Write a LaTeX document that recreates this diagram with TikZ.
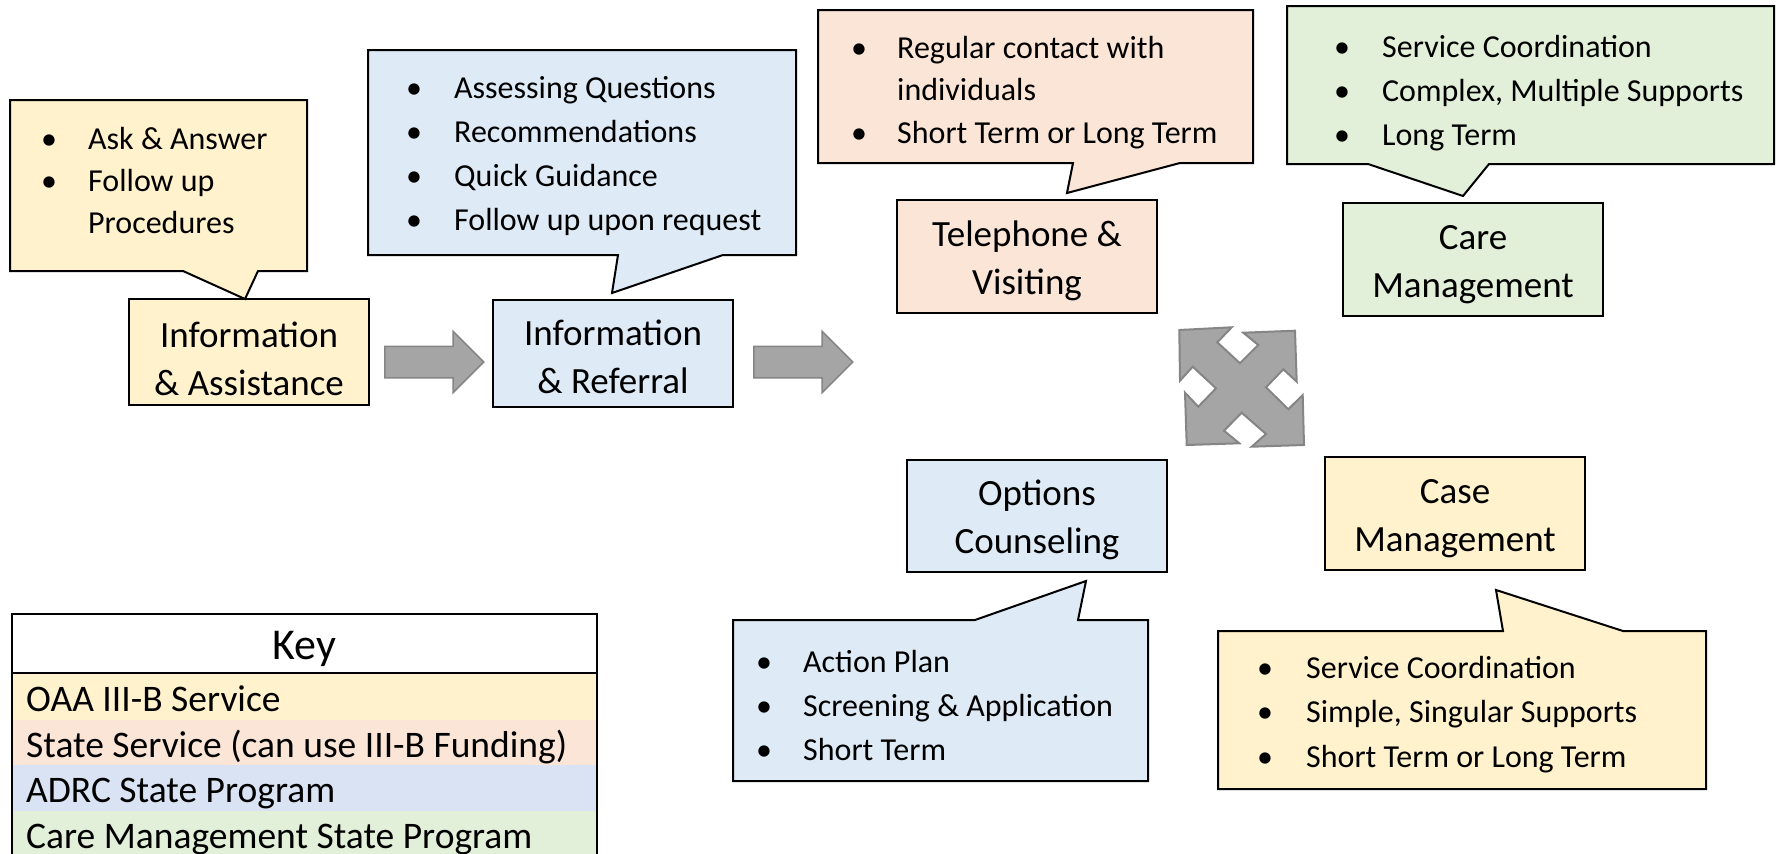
\documentclass[tikz,border=0pt]{standalone}
\usepackage{fontspec}
\setmainfont{Carlito}
\usetikzlibrary{shapes.arrows,calc}
\definecolor{yel}{HTML}{FFF2CC}
\definecolor{pnk}{HTML}{FBE5D6}
\definecolor{blu}{HTML}{DEEBF7}
\definecolor{keyblu}{HTML}{DAE3F3}
\definecolor{grn}{HTML}{E2F0D9}
\definecolor{agray}{HTML}{A5A5A5}
\definecolor{aline}{HTML}{858585}
\newcommand\twol[1]{\begin{tabular}[t]{@{}c@{}}#1\end{tabular}}
\newcommand\blist[3]{{\fontsize{32}{#1}\selectfont\begin{tabular}[t]{@{}p{#2}@{}l@{}}#3\end{tabular}}}
\begin{document}
\begin{tikzpicture}[x=1pt,y=-1pt,
  box/.style={draw=black, line width=2pt, inner sep=0pt, minimum width=260pt, minimum height=113pt},
  call/.style={draw=black, line width=2pt, line join=miter},
  ttext/.style={anchor=base, inner sep=0pt, font=\fontsize{37}{48}\selectfont},
  btext/.style={anchor=base west, inner sep=0pt},
  ktext/.style={anchor=base west, inner sep=0pt, font=\fontsize{37.5}{45}\selectfont},
  blockarrow/.style={single arrow, fill=agray, draw=aline, line width=1.5pt,
     minimum height=99pt, single arrow head extend=15pt, single arrow tip angle=90,
     inner xsep=0pt, inner ysep=15pt, anchor=tail}
]
\useasboundingbox (0,0) rectangle (1781,854);

% ---- boxes
\node[box, fill=yel, minimum width=240pt, minimum height=106pt] (ia) at (249,352) {};
\node[box, fill=blu, minimum width=240pt, minimum height=107pt] (ir) at (613,353.5) {};
\node[box, fill=pnk] (tv) at (1027,256.5) {};
\node[box, fill=grn] (cm) at (1473,259.5) {};
\node[box, fill=blu, minimum height=112pt] (oc) at (1037,516) {};
\node[box, fill=yel] (csm) at (1455,513.5) {};

\node[ttext] (iaT) at ($(ia.center)+(0,-5)$) {\twol{Information\\\& Assistance}};
\node[ttext] (irT) at ($(ir.center)+(0,-8)$) {\twol{Information\\\& Referral}};
\node[ttext] (tvT) at ($(tv.center)+(0,-10.5)$) {\twol{Telephone \&\\Visiting}};
\node[ttext] (cmT) at ($(cm.center)+(0,-10.5)$) {\twol{Care\\Management}};
\node[ttext] (ocT) at ($(oc.center)+(0,-11)$) {\twol{Options\\Counseling}};
\node[ttext] (csmT) at ($(csm.center)+(0,-10.5)$) {\twol{Case\\Management}};

% ---- callouts
\draw[call, fill=yel] (10,100) -- (307,100) -- (307,271) -- (258,271) -- (245,299) -- (183,271) -- (10,271) -- cycle;
\draw[call, fill=blu] (368,50) -- (796,50) -- (796,255) -- (723,255) -- (612,293) -- (618,255) -- (368,255) -- cycle;
\draw[call, fill=pnk] (818,10) -- (1253,10) -- (1253,163) -- (1180,163) -- (1067,193) -- (1073,163) -- (818,163) -- cycle;
\draw[call, fill=grn] (1287,6) -- (1774,6) -- (1774,164) -- (1489,164) -- (1463,196) -- (1368,164) -- (1287,164) -- cycle;
\draw[call, fill=blu] (733,620) -- (975,620) -- (1086,581) -- (1078,620) -- (1148,620) -- (1148,781) -- (733,781) -- cycle;
\draw[call, fill=yel] (1218,631) -- (1503,631) -- (1496,590) -- (1623,631) -- (1706,631) -- (1706,789) -- (1218,789) -- cycle;

\node[btext] (iaL) at (41,149) {\blist{42}{47pt}{\textbullet & Ask \& Answer\\ \textbullet & Follow up\\ & Procedures}};
\node[btext] (irL) at (406,98) {\blist{44}{48pt}{\textbullet & Assessing Questions\\ \textbullet & Recommendations\\ \textbullet & Quick Guidance\\ \textbullet & Follow up upon request}};
\node[btext] (tvL) at (851,58) {\blist{42.5}{46pt}{\textbullet & Regular contact with\\ & individuals\\ \textbullet & Short Term or Long Term}};
\node[btext] (cmL) at (1334,57) {\blist{44}{48pt}{\textbullet & Service Coordination\\ \textbullet & Complex, Multiple Supports\\ \textbullet & Long Term}};
\node[btext] (ocL) at (756,672) {\blist{44}{47pt}{\textbullet & Action Plan\\ \textbullet & Screening \& Application\\ \textbullet & Short Term}};
\node[btext] (csmL) at (1257,678) {\blist{44.5}{49pt}{\textbullet & Service Coordination\\ \textbullet & Simple, Singular Supports\\ \textbullet & Short Term or Long Term}};

% ---- block arrows
\node[blockarrow] (a1) at ($(ia.east)+(14,10)$) {};
\node[blockarrow] (a2) at ($(ir.east)+(19,8.5)$) {};

% ---- four-way arrow
\draw[fill=agray, draw=aline, line width=2pt, line join=miter]
 (1179.3,330) -- (1231.7,327.3) -- (1217.3,342.3) -- (1240,363.3) -- (1258.3,345) -- (1243.3,332.7)
 -- (1295,330.7) -- (1296.7,381.7) -- (1283.3,369.3) -- (1266,387.3) -- (1288.3,409.3) -- (1302.7,395)
 -- (1304,445) -- (1251.7,446.7) -- (1266,434) -- (1241.7,412.7) -- (1224,430.7) -- (1239.3,443.3)
 -- (1186.7,445) -- (1185,392.7) -- (1198.3,406.7) -- (1216,388.3) -- (1192.7,366.7) -- (1180,380.7) -- cycle;

% ---- key
\fill[yel] (12,673) rectangle (597,720);
\fill[pnk] (12,720) rectangle (597,765);
\fill[keyblu] (12,765) rectangle (597,811);
\fill[grn] (12,811) rectangle (597,856);
\draw[line width=2pt] (12,858) -- (12,614) -- (597,614) -- (597,858);
\draw[line width=2pt] (12,673) -- (597,673);
\node[anchor=base, inner sep=0pt, font=\fontsize{44}{50}\selectfont] (keyT) at (304.5,659) {Key};
\node[ktext] (k1) at (26,711) {OAA III-B Service};
\node[ktext] (k2) at (26,757) {State Service (can use III-B Funding)};
\node[ktext] (k3) at (26,802) {ADRC State Program};
\node[ktext] (k4) at (26,848) {Care Management State Program};
\end{tikzpicture}
\end{document}
